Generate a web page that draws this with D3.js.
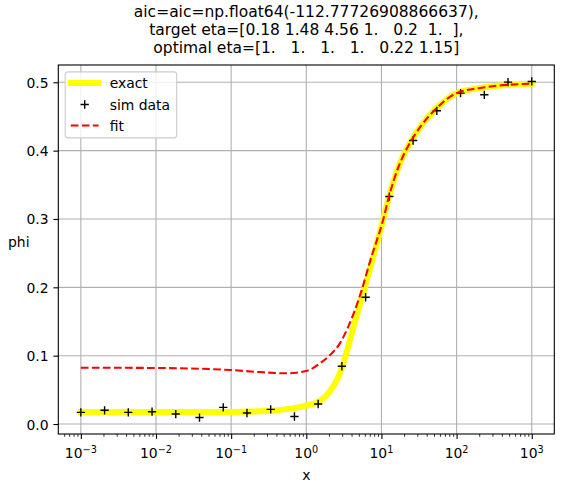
<!DOCTYPE html>
<html>
<head>
<meta charset="utf-8">
<script src="https://cdn.jsdelivr.net/npm/d3@7"></script>
<style>
  html, body { margin: 0; padding: 0; background: #fff; }
  svg { display: block; font-family: "DejaVu Sans", sans-serif; }
  text { white-space: pre; }
</style>
</head>
<body>
<svg id="chart" width="564" height="492"></svg>
<script>
// ---------------- data ----------------
const titleLines = [
  "aic=aic=np.float64(-112.77726908866637),",
  "target eta=[0.18 1.48 4.56 1.   0.2  1.  ],",
  "optimal eta=[1.   1.   1.   1.   0.22 1.15]"
];

const simX = [0.001, 0.00207, 0.00428, 0.00886, 0.01833, 0.03793, 0.07848, 0.1624, 0.336, 0.6952,
              1.438, 2.976, 6.158, 12.74, 26.37, 54.56, 112.9, 233.6, 483.3, 1000];
const simY = [0.0171, 0.0201, 0.0171, 0.0180, 0.0146, 0.0095, 0.0244, 0.0161, 0.0215, 0.0110,
              0.0293, 0.0845, 0.1855, 0.3328, 0.4148, 0.4583, 0.4842, 0.4817, 0.5003, 0.5012];

const exactX = [0.001, 0.01, 0.1, 0.3, 0.61, 1.0, 1.48, 2.07, 2.67, 3.1, 3.81, 4.67, 5.73, 7.4,
                10.6, 12.6, 16.7, 20, 26, 33, 54, 100, 250, 1000];
const exactY = [0.0175, 0.0175, 0.0176, 0.019, 0.0225, 0.027, 0.033, 0.048, 0.069, 0.088, 0.123, 0.158, 0.192, 0.236,
                0.300, 0.333, 0.375, 0.395, 0.418, 0.435, 0.462, 0.484, 0.493, 0.498];

const fitX = [0.001, 0.01, 0.1, 0.24, 0.55, 1.0, 1.52, 2.07, 2.8, 3.62, 4.45, 5.46, 7.05,
              10.6, 12.6, 16.7, 20, 26, 33, 54, 100, 250, 1000];
const fitY = [0.0824, 0.082, 0.079, 0.076, 0.0742, 0.0776, 0.0889, 0.101, 0.118, 0.1425, 0.167, 0.196, 0.238,
              0.300, 0.333, 0.375, 0.395, 0.418, 0.435, 0.462, 0.484, 0.493, 0.498];

const xTickExps = [-3, -2, -1, 0, 1, 2, 3];
const yTicks = [0.0, 0.1, 0.2, 0.3, 0.4, 0.5];
const yTickLabels = ["0.0", "0.1", "0.2", "0.3", "0.4", "0.5"];
const legendLabels = ["exact", "sim data", "fit"];
const xLabel = "x";
const yLabel = "phi";

// ---------------- layout ----------------
const svg = d3.select("#chart");
const L = 58.3, R = 554.3, T = 65, B = 434;
const FS = 13.9;

const x = d3.scaleLog().domain([Math.pow(10, -3.3), Math.pow(10, 3.3)]).range([L, R]);
const y = d3.scaleLinear().domain([-0.0146, 0.5253]).range([B, T]);

// grid
const grid = svg.append("g");
xTickExps.forEach(e => {
  grid.append("line").attr("x1", x(Math.pow(10, e))).attr("x2", x(Math.pow(10, e)))
    .attr("y1", T).attr("y2", B).attr("stroke", "#b0b0b0").attr("stroke-width", 1.1);
});
yTicks.forEach(v => {
  grid.append("line").attr("x1", L).attr("x2", R).attr("y1", y(v)).attr("y2", y(v))
    .attr("stroke", "#b0b0b0").attr("stroke-width", 1.1);
});

// clip
svg.append("clipPath").attr("id", "clip").append("rect")
  .attr("x", L).attr("y", T).attr("width", R - L).attr("height", B - T);
const plot = svg.append("g").attr("clip-path", "url(#clip)");

const lineGen = d3.line().x(d => x(d[0])).y(d => y(d[1])).curve(d3.curveMonotoneX);

// exact
plot.append("path").datum(exactX.map((v, i) => [v, exactY[i]]))
  .attr("d", lineGen).attr("fill", "none").attr("stroke", "#ffff00")
  .attr("stroke-width", 6).attr("stroke-linecap", "square").attr("stroke-linejoin", "round");

// sim data
const mk = 4.15;
const simG = plot.append("g");
simX.forEach((v, i) => {
  const cx = x(v), cy = y(simY[i]);
  simG.append("path").attr("d", `M${cx - mk},${cy}H${cx + mk}M${cx},${cy - mk}V${cy + mk}`)
    .attr("stroke", "#000").attr("stroke-width", 1.4).attr("fill", "none");
});

// fit
plot.append("path").datum(fitX.map((v, i) => [v, fitY[i]]))
  .attr("d", lineGen).attr("fill", "none").attr("stroke", "#ff0000")
  .attr("stroke-width", 2.08).attr("stroke-dasharray", "7.7,3.33");

// axes: major & minor ticks
const xAxisMajor = d3.axisBottom(x).tickValues(xTickExps.map(e => Math.pow(10, e)))
  .tickSize(4.9).tickFormat("");
const minorVals = [];
for (let e = -4; e <= 3; e++) for (let k = 2; k <= 9; k++) {
  const v = k * Math.pow(10, e);
  if (v > x.domain()[0] && v < x.domain()[1]) minorVals.push(v);
}
const xAxisMinor = d3.axisBottom(x).tickValues(minorVals).tickSize(2.8).tickFormat("");
const gxMin = svg.append("g").attr("transform", `translate(0,${B})`).call(xAxisMinor);
gxMin.select(".domain").remove();
gxMin.selectAll(".tick line").attr("stroke", "#000").attr("stroke-width", 0.8);
const gx = svg.append("g").attr("transform", `translate(0,${B})`).call(xAxisMajor);
gx.select(".domain").remove();
gx.selectAll(".tick line").attr("stroke", "#000").attr("stroke-width", 1.1);

// x tick labels with superscripts
xTickExps.forEach(e => {
  const t = svg.append("text").attr("x", x(Math.pow(10, e))).attr("y", 458.3)
    .attr("text-anchor", "middle").attr("font-size", FS).attr("fill", "#000");
  t.append("tspan").text("10");
  t.append("tspan").attr("dy", -5.6).attr("font-size", 9.7).text(String(e).replace("-", "\u2212"));
});

const yAxis = d3.axisLeft(y).tickValues(yTicks).tickSize(4.9).tickPadding(4.9)
  .tickFormat((d, i) => yTickLabels[i]);
const gy = svg.append("g").attr("transform", `translate(${L},0)`).call(yAxis);
gy.select(".domain").remove();
gy.selectAll(".tick line").attr("stroke", "#000").attr("stroke-width", 1.1);
gy.selectAll(".tick text").attr("font-size", FS).attr("font-family", "DejaVu Sans")
  .attr("fill", "#000").attr("dy", "0.36em");

// frame
svg.append("rect").attr("x", L).attr("y", T).attr("width", R - L).attr("height", B - T)
  .attr("fill", "none").attr("stroke", "#000").attr("stroke-width", 1.1);

// labels
svg.append("text").attr("x", (L + R) / 2).attr("y", 480).attr("text-anchor", "middle")
  .attr("font-size", FS).text(xLabel);
svg.append("text").attr("x", 29.5).attr("y", 247).attr("text-anchor", "end")
  .attr("font-size", FS).text(yLabel);

// title (one multi-line text element)
const title = svg.append("text").attr("text-anchor", "middle").attr("font-size", 15.5);
titleLines.forEach((s, i) => {
  title.append("tspan").attr("x", (L + R) / 2).attr("y", 17.0 + i * 18.1).text(s);
});

// legend
const lg = svg.append("g");
lg.append("rect").attr("x", 65.2).attr("y", 71.9).attr("width", 111.5).attr("height", 66)
  .attr("rx", 2.8).attr("fill", "#fff").attr("fill-opacity", 0.8)
  .attr("stroke", "#cccccc").attr("stroke-width", 1.1);
const hx0 = 70.8, hx1 = 98.6, tx = 109.7;
const rows = [83, 104.5, 125.5];
lg.append("line").attr("x1", hx0).attr("x2", hx1).attr("y1", rows[0]).attr("y2", rows[0])
  .attr("stroke", "#ffff00").attr("stroke-width", 6).attr("stroke-linecap", "square");
const mcx = (hx0 + hx1) / 2;
lg.append("path").attr("d", `M${mcx - mk},${rows[1]}H${mcx + mk}M${mcx},${rows[1] - mk}V${rows[1] + mk}`)
  .attr("stroke", "#000").attr("stroke-width", 1.4);
lg.append("line").attr("x1", hx0).attr("x2", hx1).attr("y1", rows[2]).attr("y2", rows[2])
  .attr("stroke", "#ff0000").attr("stroke-width", 2.08).attr("stroke-dasharray", "7.7,3.33");
legendLabels.forEach((s, i) => {
  lg.append("text").attr("x", tx).attr("y", rows[i] + 5).attr("font-size", FS).text(s);
});
</script>
</body>
</html>
